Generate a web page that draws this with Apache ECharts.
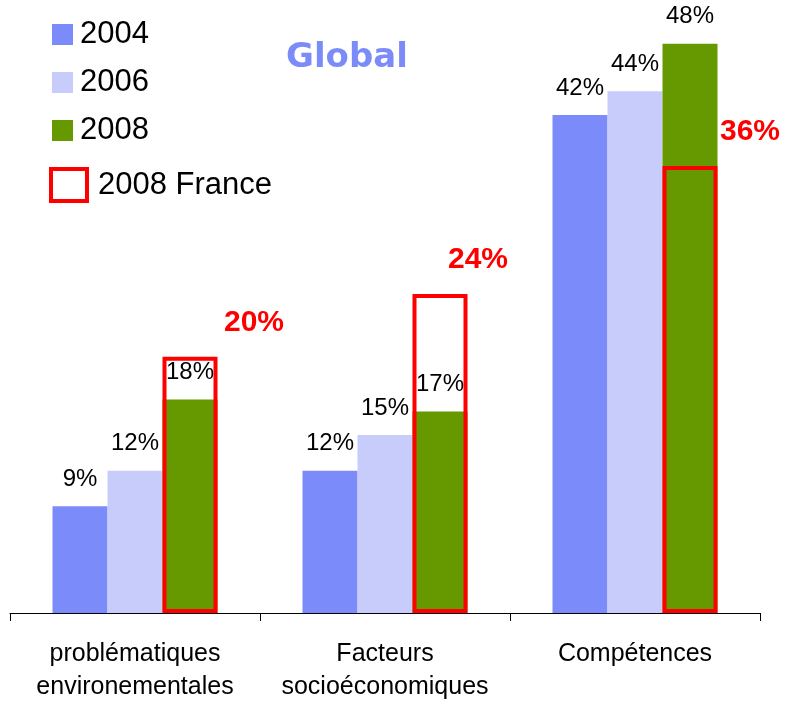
<!DOCTYPE html>
<html>
<head>
<meta charset="utf-8">
<script src="https://cdn.jsdelivr.net/npm/echarts@6/dist/echarts.min.js"></script>
<style>
html,body{margin:0;padding:0;background:#fff;}
#chart{width:785px;height:704px;}
</style>
</head>
<body>
<div id="chart"></div>
<script>
// ---- data ----
const categories = ['problématiques\nenvironementales', 'Facteurs\nsocioéconomiques', 'Compétences'];
const v2004 = [9, 12, 42];
const v2006 = [12, 15, 44];
const v2008 = [18, 17, 48];
const franceHeights = [21.6, 26.9, 37.7];
const franceLabels = ['20%', '24%', '36%'];
const seriesNames = ['2004', '2006', '2008', '2008 France'];

// ---- layout / style ----
const FONT = 'Liberation Sans, Arial, sans-serif';
const colors = ['#7b8cfa', '#c8ccfa', '#669900'];
const franceLabelOffsets = [[64, -14], [38, -14], [60, -14]];
const BW = 55;

const valueLabel = {
  show: true, position: 'top', distance: 15,
  fontFamily: FONT, fontSize: 24, color: '#000',
  formatter: '{c}%'
};

function mainBar(name, data, color) {
  return {
    name: name, type: 'bar', xAxisIndex: 0, yAxisIndex: 0,
    data: data, barWidth: BW, barGap: '0%',
    itemStyle: { color: color },
    label: valueLabel, z: 2
  };
}

const chart = echarts.init(document.getElementById('chart'), null, { renderer: 'canvas' });
chart.setOption({
  backgroundColor: '#fff',
  animation: false,
  title: {
    text: 'Global', left: 286, top: 41, padding: 0,
    textStyle: { fontFamily: 'DejaVu Sans', fontWeight: 'bold', fontSize: 34, color: '#7b8cf8' }
  },
  legend: [
    {
      data: ['2004', '2006', '2008'],
      orient: 'vertical', left: 52, top: 19, padding: 0,
      itemWidth: 21, itemHeight: 21, itemGap: 17, icon: 'rect',
      selectedMode: false,
      textStyle: { fontFamily: FONT, fontSize: 31, lineHeight: 30, color: '#000', padding: [0, 0, 0, 2] }
    },
    {
      data: [{ name: '2008 France', icon: 'rect', itemStyle: { color: '#fff', borderColor: '#ff0000', borderWidth: 4 } }],
      orient: 'vertical', left: 49, top: 167, padding: 0,
      itemWidth: 36, itemHeight: 32, selectedMode: false,
      textStyle: { fontFamily: FONT, fontSize: 31, lineHeight: 30, color: '#000', padding: [0, 0, 0, 6] }
    }
  ],
  grid: { left: 10, right: 25, top: 20, bottom: 85, containLabel: false },
  xAxis: [
    {
      type: 'category', data: categories, gridIndex: 0,
      axisLine: { show: true, lineStyle: { color: '#000', width: 1 } },
      axisTick: { show: true, length: 8, lineStyle: { color: '#000' } },
      axisLabel: { fontFamily: FONT, fontSize: 25, lineHeight: 33, color: '#000', margin: 25, interval: 0 },
      splitLine: { show: false }
    },
    {
      type: 'category', data: categories, gridIndex: 0, show: false,
      axisLine: { show: false }, axisTick: { show: false }, axisLabel: { show: false }
    }
  ],
  yAxis: {
    type: 'value', min: 0, max: 50, show: false, splitLine: { show: false }
  },
  series: [
    mainBar(seriesNames[0], v2004, colors[0]),
    mainBar(seriesNames[1], v2006, colors[1]),
    mainBar(seriesNames[2], v2008, colors[2]),
    { name: '_slotA', type: 'bar', xAxisIndex: 1, data: ['-', '-', '-'], barWidth: BW, barGap: '0%', silent: true },
    { name: '_slotB', type: 'bar', xAxisIndex: 1, data: ['-', '-', '-'], barWidth: BW, barGap: '0%', silent: true },
    {
      name: seriesNames[3], type: 'bar', xAxisIndex: 1, barWidth: BW, barGap: '0%', z: 5,
      itemStyle: { color: 'rgba(0,0,0,0)', borderColor: '#ff0000', borderWidth: 4 },
      data: franceHeights.map((v, i) => ({
        value: v,
        label: {
          show: true, position: 'top', distance: 5,
          offset: franceLabelOffsets[i],
          fontFamily: FONT, fontWeight: 'bold', fontSize: 30, color: '#ff0000',
          formatter: franceLabels[i]
        }
      }))
    }
  ]
});
</script>
</body>
</html>
